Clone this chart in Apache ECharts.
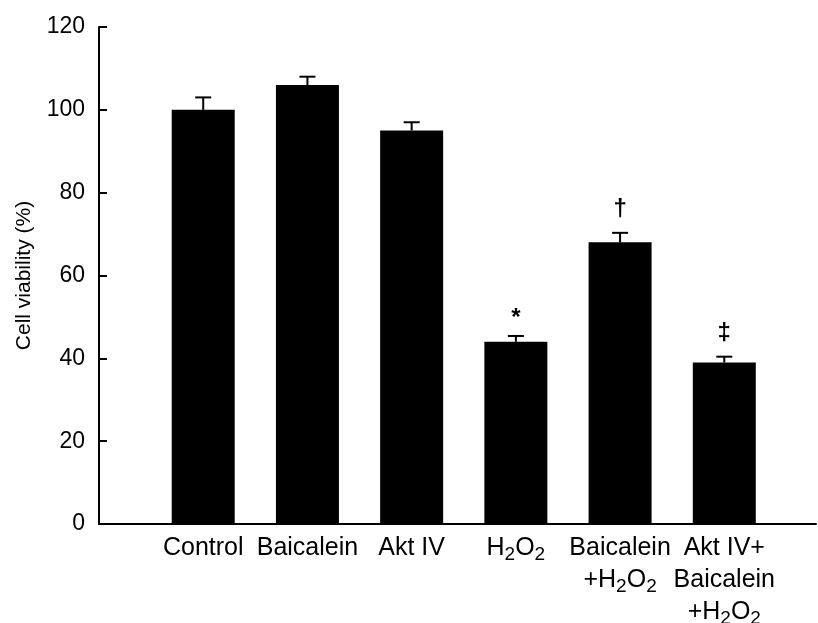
<!DOCTYPE html>
<html>
<head>
<meta charset="utf-8">
<script src="https://cdn.jsdelivr.net/npm/echarts@6/dist/echarts.min.js"></script>
<style>
  html, body { margin: 0; padding: 0; background: #fff; }
  #chart { width: 818px; height: 623px; }
</style>
</head>
<body>
<div id="chart"></div>
<script>
// ---- data ----
var categories = [
  'Control',
  'Baicalein',
  'Akt IV',
  'H{s|2}O{s|2}',
  'Baicalein\n+H{s|2}O{s|2}',
  'Akt IV+\nBaicalein\n+H{s|2}O{s|2}'
];
var values = [100, 106, 95, 44, 68, 39];
var errors = [3, 2, 2, 1.4, 2.3, 1.4];
var marks = ['', '', '', '*', '\u2020', '\u2021'];
var yTicks = [0, 20, 40, 60, 80, 100, 120];

var FONT = "'Liberation Sans', Arial, sans-serif";

var barData = values.map(function (v, i) { return [i + 1, v]; });
var errData = values.map(function (v, i) { return [i + 1, v, errors[i], i]; });

var chart = echarts.init(document.getElementById('chart'), null, { renderer: 'canvas' });

chart.setOption({
  animation: false,
  backgroundColor: '#fff',
  grid: { left: 99, right: 2, top: 27, bottom: 99, containLabel: false, outerBoundsMode: 'none' },
  xAxis: {
    type: 'value',
    min: 0,
    max: 6.88,
    interval: 1,
    splitLine: { show: false },
    axisTick: { show: false },
    axisLine: { show: true, onZero: false, lineStyle: { color: '#000', width: 2 } },
    axisLabel: {
      show: true,
      margin: 8,
      showMaxLabel: false,
      showMinLabel: false,
      hideOverlap: false,
      color: '#000',
      fontFamily: FONT,
      fontSize: 25,
      lineHeight: 32,
      align: 'center',
      formatter: function (val) {
        var i = Math.round(val);
        if (Math.abs(val - i) < 1e-6 && i >= 1 && i <= categories.length) {
          return categories[i - 1];
        }
        return '';
      },
      rich: {
        s: { fontSize: 19, fontFamily: FONT, color: '#000', verticalAlign: 'bottom', lineHeight: 14 }
      }
    }
  },
  yAxis: {
    type: 'value',
    min: yTicks[0],
    max: yTicks[yTicks.length - 1],
    interval: 20,
    name: 'Cell viability (%)',
    nameLocation: 'middle',
    nameGap: 64,
    nameRotate: 90,
    nameTextStyle: { color: '#000', fontFamily: FONT, fontSize: 21 },
    splitLine: { show: false },
    axisLine: { show: true, lineStyle: { color: '#000', width: 2 } },
    axisTick: { show: true, inside: true, length: 8, lineStyle: { color: '#000', width: 2 } },
    axisLabel: { color: '#000', fontFamily: FONT, fontSize: 23, margin: 14 }
  },
  series: [
    {
      type: 'bar',
      data: barData,
      barWidth: 63,
      itemStyle: { color: '#000' },
      z: 2
    },
    {
      type: 'custom',
      data: errData,
      z: 3,
      renderItem: function (params, api) {
        var x = api.value(0), v = api.value(1), e = api.value(2), idx = api.value(3);
        var base = api.coord([x, v]);
        var top = api.coord([x, v + e]);
        var children = [
          { type: 'line', shape: { x1: base[0], y1: base[1], x2: top[0], y2: top[1] },
            style: { stroke: '#000', lineWidth: 2 } },
          { type: 'line', shape: { x1: top[0] - 8, y1: top[1], x2: top[0] + 8, y2: top[1] },
            style: { stroke: '#000', lineWidth: 2 } }
        ];
        var m = marks[idx];
        if (m) {
          children.push({
            type: 'text',
            style: {
              text: m, x: top[0], y: top[1] - (m === '*' ? 18 : 23),
              textAlign: 'center', textVerticalAlign: 'middle',
              fill: '#000', fontFamily: FONT, fontSize: 24, fontWeight: 'bold'
            }
          });
        }
        return { type: 'group', children: children };
      }
    }
  ]
});
</script>
</body>
</html>
